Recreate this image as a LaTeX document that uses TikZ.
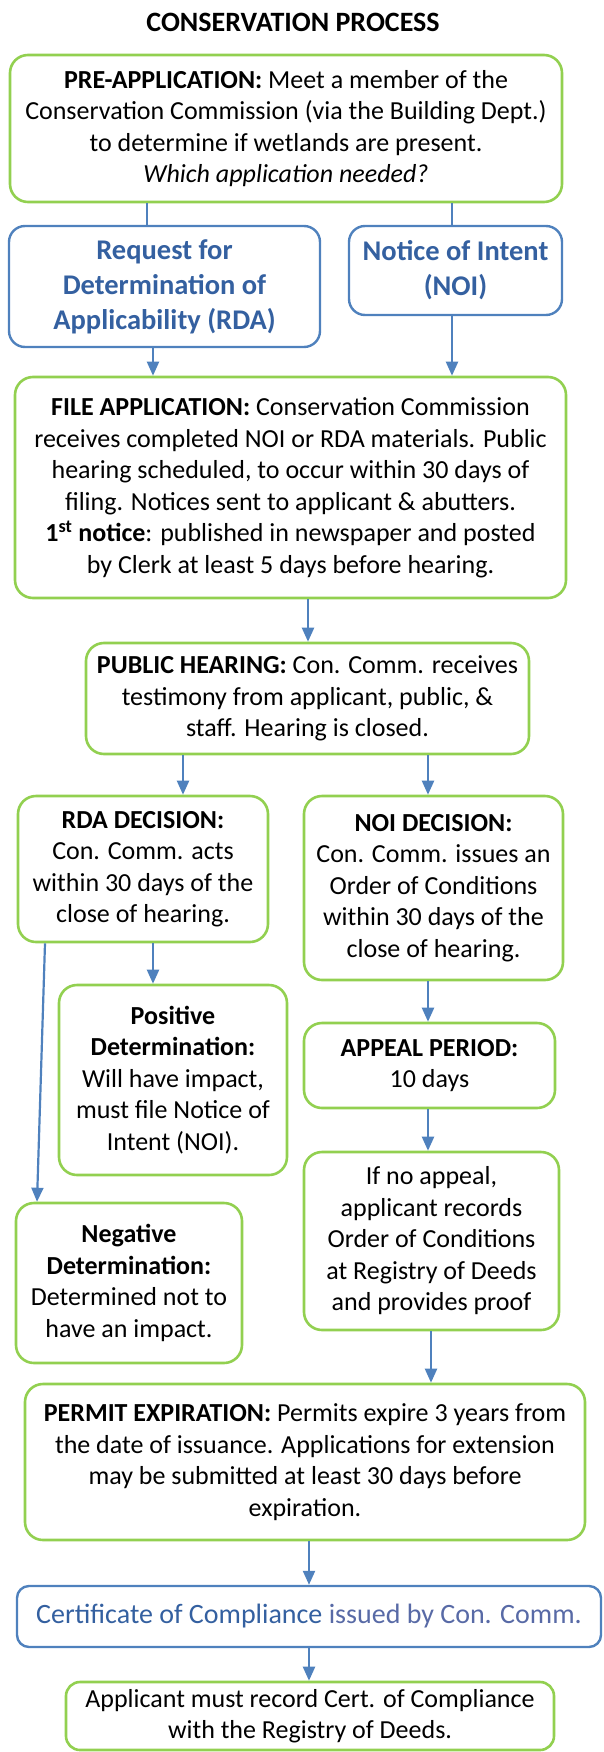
\documentclass[tikz,border=0pt]{standalone}
\usepackage{fontspec}
\setmainfont{Carlito}
\usepackage{tikz}
\usetikzlibrary{arrows.meta}
\definecolor{boxgreen}{RGB}{146,208,80}
\definecolor{boxblue}{RGB}{79,129,189}
\definecolor{textblue}{RGB}{52,96,160}
\definecolor{lightblue}{RGB}{88,106,166}

\begin{document}
\begin{tikzpicture}[x=1pt,y=1pt,yscale=-1,
  greenbox/.style={draw=boxgreen, line width=2.6pt, rounded corners=18pt, align=center, inner sep=0pt, font=\fontsize{26}{31.5}\selectfont},
  bluebox/.style={draw=boxblue, line width=2.4pt, rounded corners=16pt, align=center, inner sep=0pt, text=textblue, font=\fontsize{28.5}{35}\selectfont\bfseries},
  link/.style={draw=boxblue, line width=2.2pt},
  flow/.style={link, -{Triangle[length=14pt,width=12pt]}}]
%set diagram left start at 0, and has height of 1752
\useasboundingbox (0,0) rectangle (603,1752);

% Title
\node (title) at (293,22) {\fontsize{28}{30}\selectfont\bfseries CONSERVATION PROCESS};

% Boxes
\node[greenbox, minimum width=552pt, minimum height=147pt] (pre) at (286,128.5)
  {{\bfseries PRE-APPLICATION:} Meet a member of the\\Conservation Commission (via the Building Dept.)\\to determine if wetlands are present.\\\textit{Which application needed?}};
\node[bluebox, minimum width=311pt, minimum height=121pt] (rda) at (164.5,286.5)
  {Request for\\Determination of\\Applicability (RDA)};
\node[bluebox, minimum width=213pt, minimum height=89pt] (noi) at (455.5,270.5)
  {Notice of Intent\\(NOI)};
\node[greenbox, minimum width=551pt, minimum height=221pt] (file) at (290.5,487.5)
  {{\bfseries FILE APPLICATION:} Conservation Commission\\receives completed NOI or RDA materials. Public\\hearing scheduled, to occur within 30 days of\\filing. Notices sent to applicant \& abutters.\\{\bfseries 1\textsuperscript{st} notice}: published in newspaper and posted\\by Clerk at least 5 days before hearing.};
\node[greenbox, minimum width=443pt, minimum height=111pt] (pub) at (307.5,698.5)
  {{\bfseries PUBLIC HEARING:} Con. Comm. receives\\testimony from applicant, public, \&\\staff. Hearing is closed.};
\node[greenbox, minimum width=250pt, minimum height=146pt] (rdadec) at (143,869)
  {{\bfseries RDA DECISION:}\\Con. Comm. acts\\within 30 days of the\\close of hearing.};
\node[greenbox, minimum width=259pt, minimum height=184pt] (noidec) at (433.5,888)
  {{\bfseries NOI DECISION:}\\Con. Comm. issues an\\Order of Conditions\\within 30 days of the\\close of hearing.};
\node[greenbox, minimum width=228pt, minimum height=190pt] (pos) at (173,1080)
  {{\bfseries Positive}\\{\bfseries Determination:}\\Will have impact,\\must file Notice of\\Intent (NOI).};
\node[greenbox, minimum width=226pt, minimum height=160pt] (neg) at (129,1283)
  {{\bfseries Negative}\\{\bfseries Determination:}\\Determined not to\\have an impact.};
\node[greenbox, minimum width=251pt, minimum height=85pt] (appeal) at (429.5,1065.5)
  {{\bfseries APPEAL PERIOD:}\\10 days};
\node[greenbox, minimum width=255pt, minimum height=178pt] (noappeal) at (431.5,1241)
  {If no appeal,\\applicant records\\Order of Conditions\\at Registry of Deeds\\and provides proof};
\node[greenbox, minimum width=560pt, minimum height=156pt] (permit) at (305,1462)
  {{\bfseries PERMIT EXPIRATION:} Permits expire 3 years from\\the date of issuance. Applications for extension\\may be submitted at least 30 days before\\expiration.};
\node[bluebox, font=\fontsize{28}{34}\selectfont, rounded corners=12pt, minimum width=584pt, minimum height=61pt] (cert) at (309,1616.5)
  {Certificate of Compliance \textcolor{lightblue}{issued by Con. Comm.}};
\node[greenbox, rounded corners=14pt, minimum width=488pt, minimum height=68pt] (appl) at (310,1716)
  {Applicant must record Cert. of Compliance\\with the Registry of Deeds.};

% Connectors
\draw[link] (pre.south -| 147,0) -- (rda.north -| 147,0);
\draw[link] (pre.south -| 452,0) -- (noi.north -| 452,0);
\draw[flow] (rda.south -| 153,0) -- (file.north -| 153,0);
\draw[flow] (noi.south -| 452,0) -- (file.north -| 452,0);
\draw[flow] (file.south -| 308,0) -- (pub.north -| 308,0);
\draw[flow] (pub.south -| 183,0) -- (rdadec.north -| 183,0);
\draw[flow] (pub.south -| 428,0) -- (noidec.north -| 428,0);
\draw[flow] (rdadec.south -| 153,0) -- (pos.north -| 153,0);
\draw[flow] (rdadec.south -| 45,0) -- (neg.north -| 37,0);
\draw[flow] (noidec.south -| 428,0) -- (appeal.north -| 428,0);
\draw[flow] (appeal.south -| 428,0) -- (noappeal.north -| 428,0);
\draw[flow] (noappeal.south -| 431,0) -- (permit.north -| 431,0);
\draw[flow] (permit.south -| 309,0) -- (cert.north -| 309,0);
\draw[flow] (cert.south -| 309,0) -- (appl.north -| 309,0);

\end{tikzpicture}
\end{document}
